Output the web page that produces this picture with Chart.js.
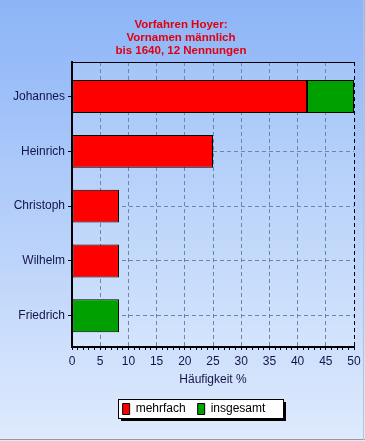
<!DOCTYPE html>
<html>
<head>
<meta charset="utf-8">
<script src="https://cdn.jsdelivr.net/npm/chart.js@4"></script>
<style>
  html, body { margin: 0; padding: 0; background: #fff; }
  canvas { display: block; }
</style>
</head>
<body>
<canvas id="chart" width="365" height="441"></canvas>
<script>
// --- data (12 Nennungen -> 1 Nennung = 8.33 %) ---
const names = ["Johannes", "Heinrich", "Christoph", "Wilhelm", "Friedrich"];
const mehrfach = [41.67, 25, 8.33, 8.33, null];
const insgesamt = [8.33, null, null, null, 8.33];
const xTicks = { min: 0, max: 50, major: 5 };
const titleLines = ["Vorfahren Hoyer:", "Vornamen männlich", "bis 1640, 12 Nennungen"];
const xTitle = "Häufigkeit %";

const textColor = "#14144a";
const gridColor = "#6a84b4";

// background, plot area and legend frame
const decor = {
    id: "decor",
    afterLayout(chart) {
        // legend and title sit a bit right of the canvas centre in the original
        chart.legend.left += 17; chart.legend.right += 17;
        chart.titleBlock.left += 4; chart.titleBlock.right += 4;
    },
    beforeDraw(chart) {
        const ctx = chart.ctx, w = chart.width, h = chart.height, a = chart.chartArea;
        ctx.save();
        let g = ctx.createLinearGradient(0, 0, 0, h);
        g.addColorStop(0, "#8cb4f7");
        g.addColorStop(1, "#dfebfd");
        ctx.fillStyle = g;
        ctx.fillRect(0, 0, w, h);

        g = ctx.createLinearGradient(0, a.top, 0, a.bottom);
        g.addColorStop(0, "#a4c5f8");
        g.addColorStop(1, "#d3e4fc");
        ctx.fillStyle = g;
        ctx.fillRect(a.left, a.top, a.right - a.left, a.bottom - a.top);

        // window edge
        ctx.fillStyle = "#9a9a9a";
        ctx.fillRect(0, h - 2, w, 1);
        ctx.fillStyle = "#b8c4d4";
        ctx.fillRect(w - 2, 0, 1, h - 1);

        // legend box with shadow
        const lg = chart.legend;
        const pad = lg.options.labels.padding;
        const x0 = (lg.left + pad + lg.right - lg.lineWidths[0]) / 2;
        const x1 = x0 + lg.lineWidths[0] - pad;
        const bx = Math.round(x0 - 5) + 0.5, by = Math.round(lg.top + pad - 4) + 0.5;
        const bw = Math.round(x1 - x0 + 22), bh = 19;
        ctx.fillStyle = "#000";
        ctx.fillRect(bx + 2.5, by + 2.5, bw, bh);
        ctx.fillStyle = "#fff";
        ctx.fillRect(bx, by, bw, bh);
        ctx.strokeStyle = "#000";
        ctx.lineWidth = 1;
        ctx.strokeRect(bx, by, bw, bh);
        ctx.restore();
    },
    afterDatasetsDraw(chart) {
        const ctx = chart.ctx, a = chart.chartArea;
        ctx.save();
        ctx.strokeStyle = "#000";
        ctx.lineWidth = 1;
        ctx.beginPath();
        ctx.moveTo(a.left, Math.round(a.top) + 0.5);
        ctx.lineTo(a.right, Math.round(a.top) + 0.5);
        ctx.stroke();
        ctx.restore();
    }
};

new Chart(document.getElementById("chart"), {
    type: "bar",
    data: {
        datasets: [
            {
                label: "mehrfach",
                data: mehrfach.map((v, i) => ({ x: v, y: i })),
                backgroundColor: "#ff0000",
                borderColor: "#000",
                borderWidth: 1,
                borderSkipped: false
            },
            {
                label: "insgesamt",
                data: insgesamt.map((v, i) => ({ x: v, y: i })),
                backgroundColor: "#00a000",
                borderColor: "#000",
                borderWidth: 1,
                borderSkipped: false
            }
        ]
    },
    options: {
        indexAxis: "y",
        responsive: false,
        animation: false,
        categoryPercentage: 1,
        barPercentage: 0.6,
        layout: { padding: { left: 0, right: 11, top: 0, bottom: 16 } },
        scales: {
            x: {
                type: "linear",
                stacked: true,
                min: xTicks.min,
                max: xTicks.max,
                afterFit: s => { s.height = 44; },
                ticks: {
                    stepSize: 1,
                    autoSkip: false,
                    maxRotation: 0,
                    minRotation: 0,
                    padding: 4,
                    color: textColor,
                    font: { family: "Liberation Sans, Arial", size: 12 },
                    callback: v => (v % xTicks.major === 0 ? v : "")
                },
                grid: {
                    color: c => c.tick.value === xTicks.max ? "#000"
                        : (c.tick.value % xTicks.major === 0 ? gridColor : "rgba(0,0,0,0)"),
                    tickColor: "#000",
                    tickLength: 3,
                    lineWidth: 1
                },
                border: { display: true, color: "#000", width: 2, dash: [4, 3] },
                title: {
                    display: true,
                    text: xTitle,
                    color: textColor,
                    font: { family: "Liberation Sans, Arial", size: 12 },
                    padding: { top: 0, bottom: 4 }
                }
            },
            y: {
                type: "linear",
                stacked: true,
                reverse: true,
                offset: false,
                min: -0.63,
                max: names.length - 0.43,
                afterFit: s => { s.width = 72; },
                afterBuildTicks: s => { s.ticks = names.map((n, i) => ({ value: i })); },
                ticks: {
                    padding: 3,
                    color: textColor,
                    font: { family: "Liberation Sans, Arial", size: 12 },
                    callback: v => names[v]
                },
                grid: {
                    offset: false,
                    color: gridColor,
                    tickColor: "#000",
                    tickLength: 4,
                    lineWidth: 1
                },
                border: { display: true, color: "#000", width: 2, dash: [4, 3] }
            }
        },
        plugins: {
            title: {
                display: true,
                text: titleLines,
                color: "#e00010",
                font: { family: "Liberation Sans, Arial", size: 11.5, weight: "bold", lineHeight: "13px" },
                padding: { top: 18, bottom: 5 }
            },
            legend: {
                position: "bottom",
                labels: {
                    boxWidth: 7,
                    boxHeight: 11,
                    padding: 12,
                    color: "#000",
                    font: { family: "Liberation Sans, Arial", size: 12 }
                }
            },
            tooltip: { enabled: false }
        }
    },
    plugins: [decor]
});
</script>
</body>
</html>
